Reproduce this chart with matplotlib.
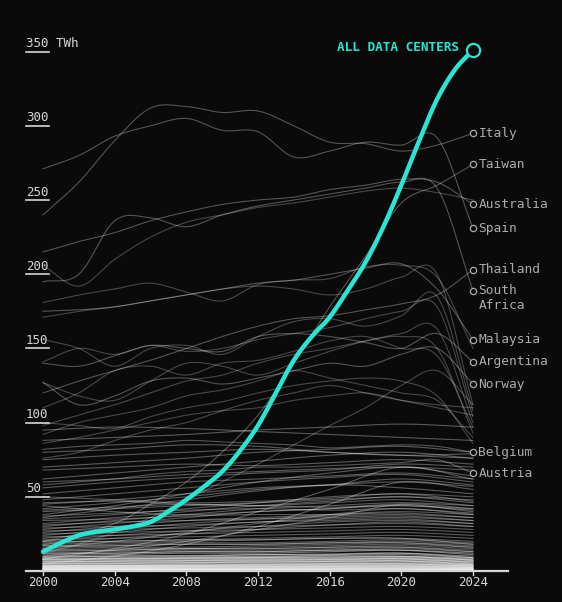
import numpy as np
import matplotlib
matplotlib.use("Agg")
import matplotlib.pyplot as plt

plt.rcParams['font.family'] = ['DejaVu Sans Mono']

years1 = list(range(2000, 2025))
years2 = list(range(2000, 2025, 2))
years4 = list(range(2000, 2025, 4))
yticks = [50, 100, 150, 200, 250, 300, 350]
xticks = [2000, 2004, 2008, 2012, 2016, 2020, 2024]

total = [13, 19, 24, 26.5, 28, 30, 33, 40, 48, 57, 67, 81, 98, 120, 142, 158,
         171, 189, 208, 232, 260, 290, 318, 338, 351]

labels = ["Italy", "Taiwan", "Australia", "Spain", "Thailand", "South\nAfrica",
          "Malaysia", "Argentina", "Norway", "Belgium", "Austria"]
labeled = [
    [240, 262, 290, 312, 313, 309, 310, 300, 289, 288, 283, 287, 295],
    [20, 25, 32, 45, 60, 80, 105, 140, 178, 212, 248, 260, 274],
    [215, 222, 228, 236, 242, 247, 250, 252, 257, 260, 264, 262, 247],
    [271, 280, 293, 300, 305, 297, 296, 279, 283, 289, 287, 292, 231],
    [120, 128, 135, 142, 150, 158, 165, 170, 172, 176, 180, 186, 203],
    [195, 200, 236, 238, 232, 240, 246, 250, 254, 258, 262, 258, 189],
    [175, 176, 178, 182, 186, 190, 194, 196, 200, 204, 207, 190, 156],
    [140, 138, 145, 152, 150, 148, 158, 160, 158, 154, 150, 160, 141],
    [127, 112, 118, 128, 130, 126, 130, 135, 140, 138, 146, 150, 126],
    [82, 84, 85, 86, 88, 87, 86, 85, 83, 84, 85, 84, 80],
    [58, 60, 62, 65, 67, 68, 70, 70, 71, 72, 73, 75, 66],
]

upper = [
    [206, 192, 210, 225, 235, 240, 245, 248, 252, 256, 258, 255, 250],
    [181, 186, 190, 194, 188, 182, 193, 196, 197, 205, 206, 198, 150],
    [171, 175, 178, 182, 186, 190, 192, 190, 186, 190, 198, 200, 112],
    [156, 150, 138, 150, 152, 146, 158, 168, 170, 165, 172, 185, 108],
    [141, 150, 146, 152, 148, 150, 156, 160, 164, 170, 175, 178, 104],
    [127, 118, 115, 128, 140, 138, 132, 140, 148, 155, 160, 163, 100],
    [110, 120, 135, 138, 132, 140, 142, 148, 155, 158, 150, 145, 97],
    [98, 105, 112, 120, 128, 132, 140, 146, 150, 155, 158, 150, 93],
    [92, 100, 105, 110, 118, 122, 128, 135, 130, 125, 120, 115, 90],
    [100, 98, 96, 104, 110, 114, 120, 125, 128, 130, 128, 118, 86],
    [86, 90, 95, 100, 105, 108, 110, 115, 118, 120, 115, 110, 105],
    [76, 80, 88, 95, 100, 108, 115, 120, 125, 120, 115, 112, 110],
    [12, 18, 26, 36, 48, 60, 72, 85, 98, 110, 125, 135, 112],
]

lower = [
    [95, 97, 96, 94, 92, 90, 88], [88, 90, 92, 95, 97, 99, 97],
    [80, 82, 85, 84, 80, 78, 79], [75, 78, 80, 82, 80, 78, 76],
    [70, 73, 76, 80, 82, 84, 80], [68, 70, 72, 71, 73, 75, 72],
    [62, 66, 70, 74, 78, 80, 76], [60, 62, 65, 67, 69, 70, 68],
    [56, 60, 63, 66, 68, 72, 70], [52, 56, 60, 62, 64, 66, 62],
    [48, 52, 56, 60, 63, 65, 60], [45, 48, 52, 56, 58, 60, 57],
    [42, 46, 50, 55, 58, 62, 58], [38, 44, 52, 60, 66, 70, 64],
    [36, 42, 48, 54, 58, 56, 52], [35, 38, 42, 46, 50, 52, 50],
    [40, 42, 44, 46, 48, 50, 48], [32, 36, 40, 44, 47, 50, 46],
    [30, 34, 38, 42, 44, 46, 44], [28, 32, 36, 40, 42, 44, 42],
    [26, 30, 34, 36, 38, 40, 38], [24, 28, 32, 35, 37, 38, 36],
    [22, 26, 30, 33, 35, 36, 34], [20, 24, 27, 30, 33, 34, 32],
    [8, 15, 25, 40, 55, 70, 62], [5, 10, 18, 30, 45, 60, 55],
    [10, 14, 20, 28, 36, 45, 42], [44, 40, 38, 40, 42, 45, 40],
    [50, 48, 46, 47, 49, 52, 47], [46, 47, 45, 44, 46, 48, 44],
    [41, 43, 45, 44, 43, 44, 41], [37, 39, 41, 42, 41, 42, 39],
    [34, 35, 37, 38, 38, 39, 36], [31, 33, 34, 35, 36, 37, 34],
    [29, 30, 31, 33, 34, 35, 32], [27, 28, 29, 30, 31, 32, 30],
    [15, 20, 26, 32, 38, 42, 38], [18, 22, 25, 28, 31, 33, 30],
    [25, 26, 27, 28, 29, 30, 28], [23, 24, 25, 26, 27, 28, 26],
    [21, 22, 23, 24, 25, 26, 24], [19, 20, 21, 22, 23, 24, 22],
    [18, 19, 20, 21, 22, 22, 20], [17, 18, 19, 19, 20, 21, 19],
    [16, 17, 18, 18, 19, 20, 18], [15, 16, 16, 17, 18, 19, 17],
    [14, 15, 15, 16, 17, 18, 16], [13, 14, 15, 15, 16, 17, 15],
    [12, 13, 14, 14, 15, 16, 14], [11, 12, 13, 13, 14, 15, 13],
    [10, 11, 12, 12, 13, 14, 12], [9, 10, 10, 11, 11, 12, 10],
    [20, 20, 21, 21, 22, 22, 18], [17, 17, 18, 18, 19, 19, 16],
    [14, 14, 15, 15, 16, 16, 13], [12, 12, 13, 13, 14, 14, 11],
    [8.5, 9, 9.5, 10, 10.5, 11, 9], [8, 8.5, 9, 9.5, 10, 10, 8.5],
    [7.5, 8, 8.5, 9, 9, 9.5, 8], [7, 7.5, 8, 8.5, 8.5, 9, 7.5],
    [6.5, 7, 7.5, 8, 8, 8.5, 7], [6, 6.5, 7, 7.5, 7.5, 8, 6.5],
    [5.5, 6, 6.5, 7, 7, 7.5, 6], [5, 5.5, 6, 6.5, 6.5, 7, 5.5],
    [4.5, 5, 5.5, 6, 6, 6.5, 5], [4, 4.5, 5, 5.5, 5.5, 6, 4.5],
    [3.8, 4, 4.5, 5, 5, 5.5, 4.2], [3.5, 3.8, 4, 4.5, 4.8, 5, 4],
    [3.2, 3.5, 3.8, 4, 4.2, 4.5, 3.6], [3, 3.2, 3.5, 3.8, 4, 4.2, 3.4],
    [2.8, 3, 3.2, 3.5, 3.6, 3.8, 3.1], [2.5, 2.7, 3, 3.2, 3.3, 3.5, 2.8],
    [2.2, 2.4, 2.6, 2.8, 3, 3.1, 2.5], [2, 2.2, 2.4, 2.5, 2.7, 2.8, 2.2],
    [1.8, 2, 2.1, 2.2, 2.4, 2.5, 2], [1.5, 1.7, 1.8, 2, 2.1, 2.2, 1.8],
    [1.3, 1.4, 1.5, 1.7, 1.8, 1.9, 1.5], [1.1, 1.2, 1.3, 1.4, 1.5, 1.6, 1.3],
    [0.9, 1, 1.1, 1.2, 1.3, 1.4, 1.1], [0.7, 0.8, 0.9, 1, 1.1, 1.1, 0.9],
    [0.5, 0.6, 0.7, 0.8, 0.8, 0.9, 0.7], [0.3, 0.4, 0.5, 0.5, 0.6, 0.6, 0.5],
    [0.2, 0.2, 0.3, 0.3, 0.4, 0.4, 0.3], [0.1, 0.1, 0.2, 0.2, 0.2, 0.2, 0.2],
    [9.5, 10, 10.5, 11, 11.5, 12, 9], [7.8, 8.2, 8.6, 9, 9.4, 9.8, 7.4],
    [6.2, 6.6, 7, 7.4, 7.8, 8.2, 6], [4.8, 5.2, 5.6, 6, 6.4, 6.8, 4.6],
    [3.4, 3.7, 4, 4.3, 4.6, 4.9, 3.3], [2.4, 2.6, 2.8, 3, 3.2, 3.4, 2.3],
    [1.6, 1.7, 1.8, 1.9, 2, 2.1, 1.5], [1, 1, 1.1, 1.1, 1.2, 1.2, 0.9],
]


def smooth(xs, ys, n=16):
    x = np.asarray(xs, float)
    y = np.asarray(ys, float)
    xp = np.concatenate([[2 * x[0] - x[1]], x, [2 * x[-1] - x[-2]]])
    yp = np.concatenate([[2 * y[0] - y[1]], y, [2 * y[-1] - y[-2]]])
    t = np.linspace(0, 1, n, endpoint=False)
    ox, oy = [], []
    for i in range(1, len(xp) - 2):
        for arr, out in ((xp, ox), (yp, oy)):
            p0, p1, p2, p3 = arr[i - 1], arr[i], arr[i + 1], arr[i + 2]
            out.extend(0.5 * (2 * p1 + (-p0 + p2) * t
                              + (2 * p0 - 5 * p1 + 4 * p2 - p3) * t ** 2
                              + (-p0 + 3 * p1 - 3 * p2 + p3) * t ** 3))
    ox.append(x[-1])
    oy.append(y[-1])
    return np.array(ox), np.maximum(np.array(oy), 0)


bg = "#0a0a0a"
cyan = "#29e6d4"
grey = "#ababab"
light = "#d6d6d6"

fig = plt.figure(figsize=(5.62, 6.02), dpi=100, facecolor=bg)
ax = fig.add_axes([0, 0, 1, 1])
ax.set_facecolor(bg)
ax.set_xlim(1997.6, 2028.97)
ax.set_ylim(-20.9, 384.8)
ax.axis("off")

for s in lower:
    sx, sy = smooth(years4, s)
    a = 0.45 if max(s) < 15 else 0.32
    ax.plot(sx, sy, color="white", alpha=a, lw=0.8, zorder=2)

for s in upper:
    sx, sy = smooth(years2, s)
    ax.plot(sx, sy, color="white", alpha=0.25, lw=0.8, zorder=2)

for s in labeled:
    sx, sy = smooth(years2, s)
    ax.plot(sx, sy, color="white", alpha=0.3, lw=0.8, zorder=2)

# axis
ax.plot([1999.05, 2025.95], [0, 0], color=light, lw=1.6, zorder=3)
for yr in xticks:
    ax.plot([yr, yr], [0, -3], color=light, lw=1, zorder=3)
    ax.text(yr, -7.6, str(yr), color=light, fontsize=9, ha="center", va="center")

for v in yticks:
    ax.plot([1999.05, 2000.33], [v, v], color=light, lw=1.2)
    txt = "%d TWh" % v if v == yticks[-1] else str(v)
    ax.text(1999.05, v + 3.0, txt, color=light, fontsize=9, ha="left", va="baseline")

# total line
sx, sy = smooth(years1, total, n=8)
ax.plot(sx, sy, color=cyan, lw=3.2, solid_capstyle="round", zorder=5)
ax.plot(years1[-1], total[-1], "o", ms=9.5, mfc=bg, mec=cyan, mew=1.6, zorder=6)
ax.text(2023.22, 353, "ALL DATA CENTERS", color=cyan, fontsize=9.2, fontweight="bold",
        ha="right", va="center", zorder=6)

for name, s in zip(labels, labeled):
    ax.plot(years2[-1], s[-1], "o", ms=4.5, mfc=bg, mec=grey, mew=0.9, zorder=4)
    if "\n" in name:
        ax.text(2024.3, s[-1] + 4.2, name, color=grey, fontsize=9.3, ha="left",
                va="top", linespacing=1.15)
    else:
        ax.text(2024.3, s[-1], name, color=grey, fontsize=9.3, ha="left", va="center")

fig.savefig("out.png", dpi=100, facecolor=bg)
